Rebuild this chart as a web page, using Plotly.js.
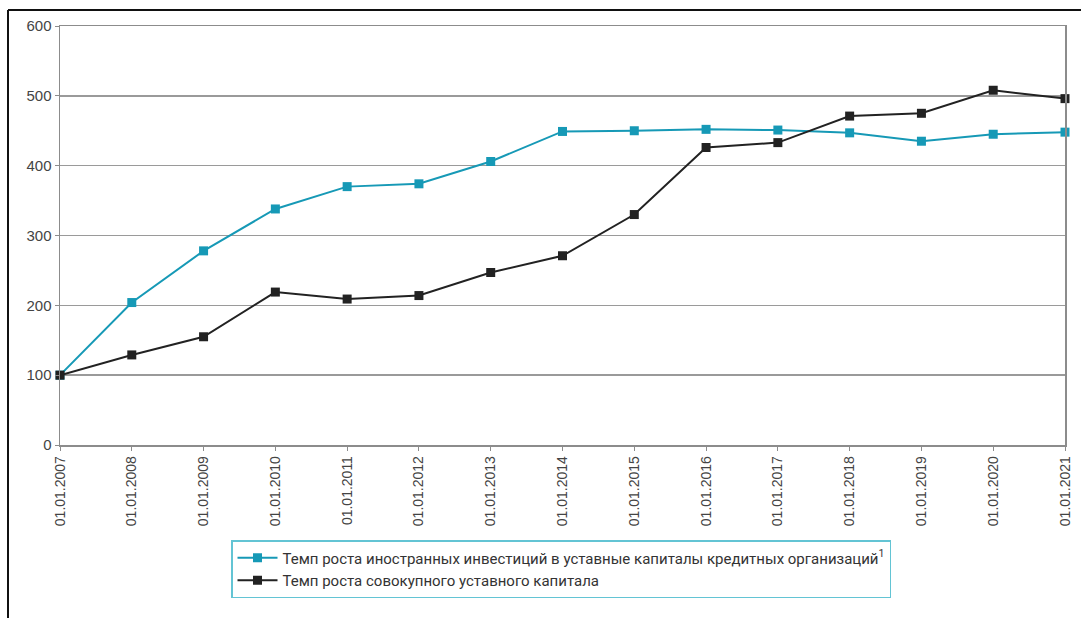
<!DOCTYPE html>
<html>
<head>
<meta charset="utf-8">
<script src="https://cdn.plot.ly/plotly-3.0.1.min.js"></script>
<style>
  html, body { margin: 0; padding: 0; background: #fff; }
  #chart { width: 1081px; height: 618px; }
</style>
</head>
<body>
<div id="chart"></div>
<script>
// Dates of observation (category axis)
const dates = [
  "01.01.2007", "01.01.2008", "01.01.2009", "01.01.2010", "01.01.2011",
  "01.01.2012", "01.01.2013", "01.01.2014", "01.01.2015", "01.01.2016",
  "01.01.2017", "01.01.2018", "01.01.2019", "01.01.2020", "01.01.2021"
];

// Growth rate of foreign investment in charter capital of credit institutions, %
const foreignInvest = [100, 204, 278, 338, 370, 374, 406, 449, 450, 452, 451, 447, 435, 445, 448];

// Growth rate of aggregate charter capital, %
const totalCapital = [100, 129, 155, 219, 209, 214, 247, 271, 330, 426, 433, 471, 475, 508, 496];

const seriesNames = [
  "Темп роста иностранных инвестиций в уставные капиталы кредитных организаций<sup style=\"font-size:8px\">1</sup>",
  "Темп роста совокупного уставного капитала"
];

const yTicks = [0, 100, 200, 300, 400, 500, 600];

const cyan = "#1699b6";
const dark = "#222222";

const traces = [
  {
    x: dates, y: foreignInvest, name: seriesNames[0],
    type: "scatter", mode: "lines+markers", cliponaxis: false,
    line: { color: cyan, width: 2 },
    marker: { symbol: "square", size: 9, color: cyan }
  },
  {
    x: dates, y: totalCapital, name: seriesNames[1],
    type: "scatter", mode: "lines+markers", cliponaxis: false,
    line: { color: dark, width: 2 },
    marker: { symbol: "square", size: 9, color: dark }
  }
];

const L = 60, R = 16, T = 26, B = 173, W = 1081, H = 618;
const pw = W - L - R, ph = H - T - B;
// convert page pixels to paper fractions for the outer frame
const px = v => (v - L) / pw;
const py = v => (H - B - v) / ph;

const layout = {
  width: W, height: H,
  margin: { l: L, r: R, t: T, b: B, pad: 0 },
  paper_bgcolor: "#ffffff",
  plot_bgcolor: "#ffffff",
  font: { family: "Liberation Sans, Arial, sans-serif", size: 14, color: "#444" },
  showlegend: true,
  xaxis: {
    type: "category",
    range: [0, dates.length - 1],
    tickangle: -90,
    tickfont: { family: "Liberation Sans, Arial, sans-serif", size: 14, color: "#444" },
    showgrid: false,
    showline: true, linecolor: "#8c8c8c", linewidth: 1.5, mirror: true,
    ticks: "outside", ticklen: 4, tickcolor: "#8c8c8c", tickwidth: 1,
    zeroline: false,
    fixedrange: true
  },
  yaxis: {
    range: [0, 600],
    tickvals: yTicks,
    tickfont: { family: "Liberation Sans, Arial, sans-serif", size: 15, color: "#444" },
    showgrid: true, gridcolor: "#9a9a9a", gridwidth: 1.5,
    showline: true, linecolor: "#8c8c8c", linewidth: 1.5, mirror: true,
    ticks: "outside", ticklen: 4, tickcolor: "#8c8c8c", tickwidth: 1,
    zeroline: false,
    fixedrange: true
  },
  legend: {
    x: px(231), y: py(540), xanchor: "left", yanchor: "top",
    orientation: "v",
    bordercolor: "#63c4d4", borderwidth: 1.5,
    bgcolor: "#ffffff",
    font: { family: "Roboto, Liberation Sans, sans-serif", size: 15, color: "#333" },
    tracegroupgap: 0,
    itemwidth: 40
  },
  shapes: [
    // outer frame: top and left edges
    { type: "line", xref: "paper", yref: "paper",
      x0: px(8), x1: px(W + 5), y0: py(10), y1: py(10),
      line: { color: "#111", width: 2 } },
    { type: "line", xref: "paper", yref: "paper",
      x0: px(8), x1: px(8), y0: py(10), y1: py(H + 5),
      line: { color: "#111", width: 2 } }
  ]
};

Plotly.newPlot("chart", traces, layout, { displayModeBar: false, staticPlot: true });
</script>
</body>
</html>
